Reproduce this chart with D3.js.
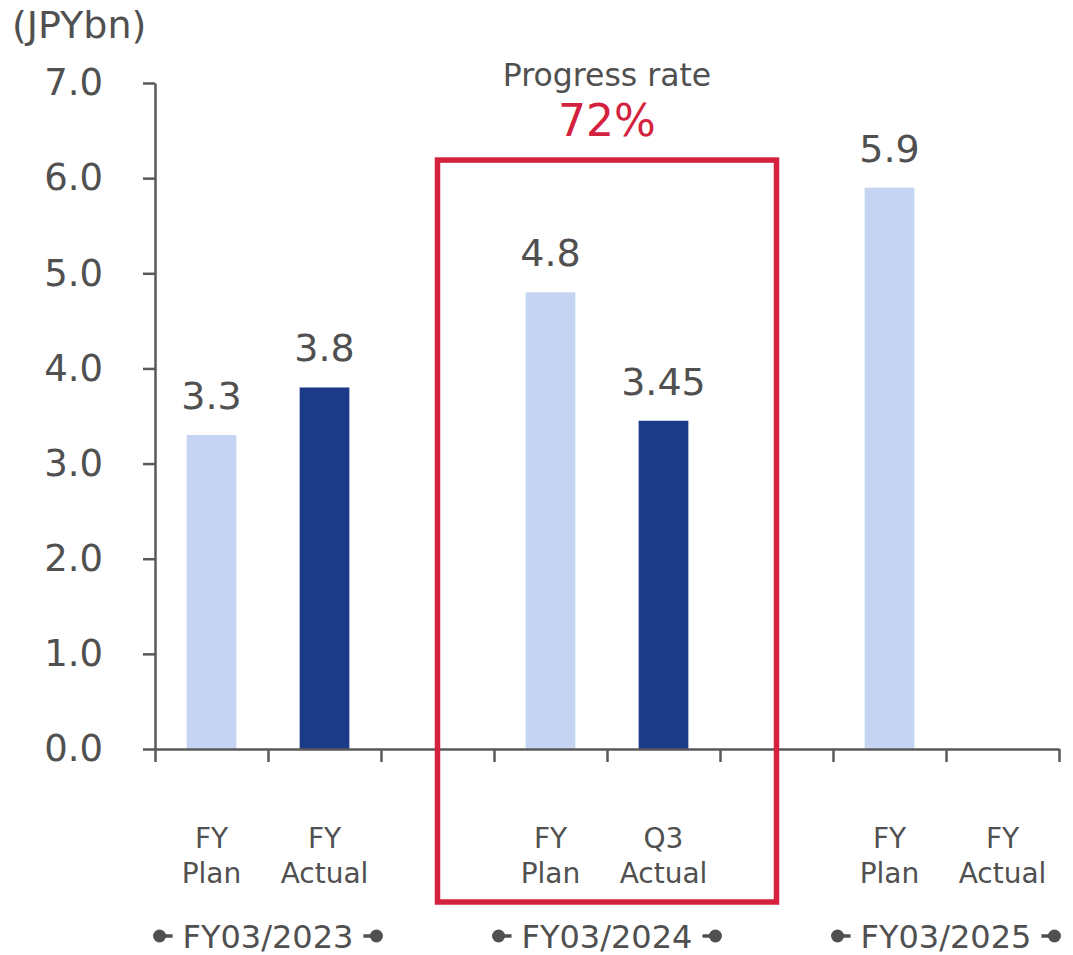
<!DOCTYPE html>
<html>
<head>
<meta charset="utf-8">
<script src="https://cdn.jsdelivr.net/npm/d3@7"></script>
<style>
  html, body { margin: 0; padding: 0; background: #fff; }
  svg { display: block; }
  text { font-family: "DejaVu Sans", Verdana, sans-serif; }
</style>
</head>
<body>
<svg id="chart" width="1073" height="955"></svg>
<script>
// ---- data ----
const categoryLine1 = ["FY", "FY", "", "FY", "Q3", "", "FY", "FY"];
const categoryLine2 = ["Plan", "Actual", "", "Plan", "Actual", "", "Plan", "Actual"];
const seriesType    = ["plan", "actual", null, "plan", "actual", null, "plan", "actual"];
const values        = [3.3, 3.8, null, 4.8, 3.45, null, 5.9, null];
const groups        = ["FY03/2023", "FY03/2024", "FY03/2025"];
const groupBands    = [[0, 1], [3, 4], [6, 7]];
const yTicks        = [0, 1, 2, 3, 4, 5, 6, 7];
const unitLabel     = "(JPYbn)";
const progressTitle = "Progress rate";
const progressValue = "72%";
const boxBands      = [2, 5];   // box spans from centre of band 2 to centre of band 5
const boxTopValue   = 6.19;

// ---- styles ----
const textColor = "#505050";
const axisColor = "#595959";
const planColor = "#c5d4f2";
const actualColor = "#1b3a87";
const redColor = "#d4213d";

const svg = d3.select("#chart");
const idx = d3.range(values.length);

const x = d3.scaleBand().domain(idx).range([155, 1059]).padding(0);
const xEdge = d3.scaleLinear().domain([0, values.length]).range([155, 1059]);
const y = d3.scaleLinear().domain([0, 7]).range([749, 83]);
const barW = x.bandwidth() * 0.44;

// unit label
svg.append("text")
  .attr("x", 12).attr("y", 38)
  .attr("font-size", 38).attr("fill", textColor)
  .text(unitLabel);

// y axis
const yAxis = svg.append("g")
  .attr("transform", `translate(${xEdge(0)},0)`)
  .call(d3.axisLeft(y).tickValues(yTicks).tickSize(12).tickSizeOuter(0)
        .tickPadding(40).tickFormat(d3.format(".1f")));
yAxis.select(".domain").attr("stroke", axisColor).attr("stroke-width", 2.5);
yAxis.selectAll(".tick line").attr("stroke", axisColor).attr("stroke-width", 2.5);
yAxis.selectAll(".tick text")
  .attr("font-size", 37).attr("fill", textColor)
  .attr("font-family", "DejaVu Sans, Verdana, sans-serif");

// bars
svg.append("g").selectAll("rect")
  .data(idx.filter(i => values[i] != null))
  .join("rect")
  .attr("x", i => x(i) + (x.bandwidth() - barW) / 2)
  .attr("width", barW)
  .attr("y", i => y(values[i]))
  .attr("height", i => y(0) - y(values[i]))
  .attr("fill", i => seriesType[i] === "plan" ? planColor : actualColor);

// data labels
svg.append("g").selectAll("text")
  .data(idx.filter(i => values[i] != null))
  .join("text")
  .attr("x", i => x(i) + x.bandwidth() / 2)
  .attr("y", i => y(values[i]) - 26)
  .attr("text-anchor", "middle")
  .attr("font-size", 38).attr("fill", textColor)
  .text(i => String(values[i]));

// x axis (ticks at band edges)
const xAxis = svg.append("g")
  .attr("transform", `translate(0,${y(0)})`)
  .call(d3.axisBottom(xEdge).tickValues(d3.range(values.length + 1))
        .tickSize(13).tickSizeOuter(0).tickFormat(""));
xAxis.select(".domain").attr("stroke", axisColor).attr("stroke-width", 2.5);
xAxis.selectAll(".tick line").attr("stroke", axisColor).attr("stroke-width", 2.5);

// category labels
const catG = svg.append("g");
idx.forEach(i => {
  const cx = x(i) + x.bandwidth() / 2;
  const t = catG.append("text")
    .attr("text-anchor", "middle")
    .attr("font-size", 28).attr("fill", textColor);
  t.append("tspan").attr("x", cx).attr("y", y(0) + 99).text(categoryLine1[i]);
  t.append("tspan").attr("x", cx).attr("y", y(0) + 134).text(categoryLine2[i]);
});

// group labels with dot markers
const grpG = svg.append("g");
groups.forEach((g, k) => {
  const [a, b] = groupBands[k];
  const cx = (x(a) + x(b) + x.bandwidth()) / 2;
  const t = grpG.append("text")
    .attr("x", cx).attr("y", y(0) + 199)
    .attr("text-anchor", "middle")
    .attr("font-size", 32).attr("fill", textColor)
    .text(g);
  const w = t.node().getComputedTextLength();
  const cy = y(0) + 187;
  const left = cx - w / 2 - 10, right = cx + w / 2 + 10;
  grpG.append("line").attr("x1", left - 12).attr("x2", left).attr("y1", cy).attr("y2", cy)
    .attr("stroke", textColor).attr("stroke-width", 3.5);
  grpG.append("circle").attr("cx", left - 13).attr("cy", cy).attr("r", 6.5).attr("fill", textColor);
  grpG.append("line").attr("x1", right).attr("x2", right + 12).attr("y1", cy).attr("y2", cy)
    .attr("stroke", textColor).attr("stroke-width", 3.5);
  grpG.append("circle").attr("cx", right + 13).attr("cy", cy).attr("r", 6.5).attr("fill", textColor);
});

// highlight box
const bx0 = x(boxBands[0]) + x.bandwidth() / 2;
const bx1 = x(boxBands[1]) + x.bandwidth() / 2;
const by0 = y(boxTopValue);
const by1 = y(0) + 153;
svg.append("rect")
  .attr("x", bx0).attr("y", by0)
  .attr("width", bx1 - bx0).attr("height", by1 - by0)
  .attr("fill", "none").attr("stroke", redColor).attr("stroke-width", 5.5);

// progress annotation
svg.append("text")
  .attr("x", (bx0 + bx1) / 2).attr("y", by0 - 74)
  .attr("text-anchor", "middle")
  .attr("font-size", 31.5).attr("fill", textColor)
  .text(progressTitle);
svg.append("text")
  .attr("x", (bx0 + bx1) / 2).attr("y", by0 - 24)
  .attr("text-anchor", "middle")
  .attr("font-size", 44).attr("fill", redColor)
  .text(progressValue);
</script>
</body>
</html>
